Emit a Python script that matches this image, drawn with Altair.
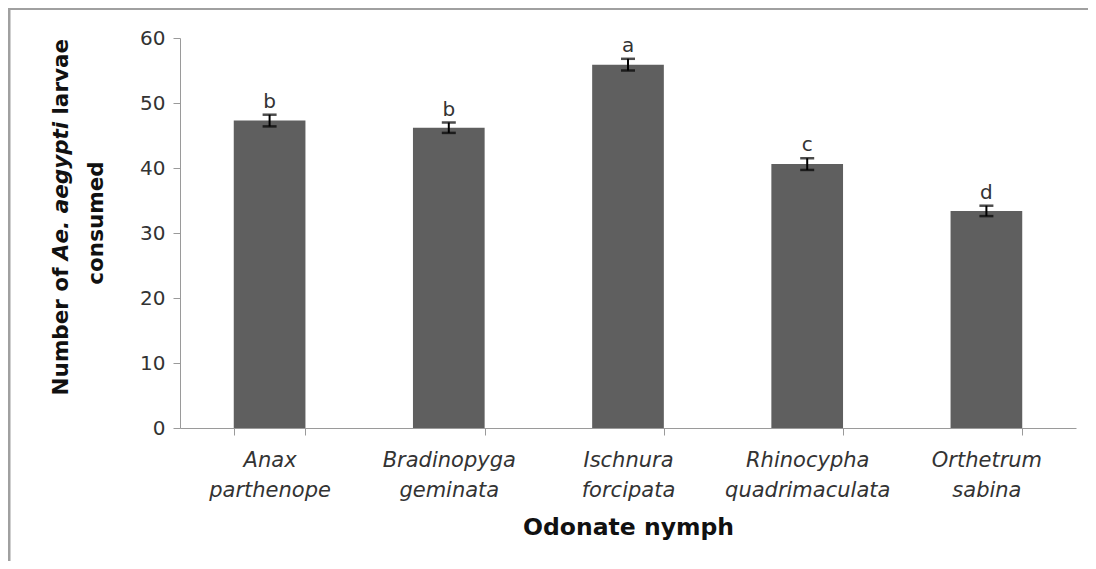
import altair as alt
import pandas as pd

species = ["Anax parthenope", "Bradinopyga geminata", "Ischnura forcipata",
           "Rhinocypha quadrimaculata", "Orthetrum sabina"]
means = [47.3, 46.2, 55.9, 40.6, 33.4]
errs = [0.9, 0.8, 0.9, 0.9, 0.8]
letters = ["b", "b", "a", "c", "d"]
y_ticks = [0, 10, 20, 30, 40, 50, 60]

df = pd.DataFrame({"species": species, "mean": means, "err": errs, "letter": letters})
df["lo"] = df["mean"] - df["err"]
df["hi"] = df["mean"] + df["err"]

FONT = "DejaVu Sans"
W, H = 896, 390
PL, PT, PR, PB = 172, 30, 12, 133
GREY = "#9a9a9a"

x = alt.X("species:N", sort=species,
          scale=alt.Scale(paddingInner=0.6, paddingOuter=0.3),
          axis=alt.Axis(title="Odonate nymph", labelExpr="split(datum.label, ' ')",
                        labelAngle=0, labelFont=FONT, labelFontStyle="italic",
                        labelFontSize=21, labelColor="#333333", labelLineHeight=30,
                        labelPadding=14, tickBand="extent", tickSize=7, tickColor=GREY,
                        domainColor=GREY, titleFont=FONT, titleFontSize=23.5,
                        titleFontWeight="bold", titleColor="#111111", titlePadding=15))
yax = alt.Axis(values=y_ticks, title=None, grid=False, labelFont=FONT, labelFontSize=20,
               labelColor="#333333", tickSize=7, labelPadding=8, tickColor=GREY,
               domainColor=GREY)
yscale = alt.Scale(domain=[0, 60], nice=False)

base = alt.Chart(df)
bars = base.mark_bar(color="#5f5f5f").encode(
    x=x, y=alt.Y("mean:Q", scale=yscale, axis=yax))
rule = base.mark_rule(color="black", strokeWidth=2).encode(
    x=x, y=alt.Y("lo:Q", scale=yscale, axis=yax), y2="hi:Q")
cap_lo = base.mark_tick(color="black", thickness=2.5, size=14).encode(
    x=x, y=alt.Y("lo:Q", scale=yscale, axis=yax))
cap_hi = base.mark_tick(color="black", thickness=2.5, size=14).encode(
    x=x, y=alt.Y("hi:Q", scale=yscale, axis=yax))
labels = base.mark_text(font=FONT, fontSize=20, color="#333333", baseline="alphabetic",
                        dy=-7).encode(
    x=x, y=alt.Y("hi:Q", scale=yscale, axis=yax), text="letter:N")

one = pd.DataFrame({"k": [0]})
TS = 21.5
seg_center = 153
aeg_half = 69
gap = 7.5
x1, x2 = -118, -83
t_kw = dict(font=FONT, fontSize=TS, fontWeight="bold", angle=270, baseline="middle",
            color="#111111")
t_num = alt.Chart(one).mark_text(text="Number of", align="right", **t_kw).encode(
    x=alt.value(x1), y=alt.value(seg_center + aeg_half + gap))
t_aeg = alt.Chart(one).mark_text(text="Ae. aegypti", align="center", fontStyle="italic",
                                 **t_kw).encode(x=alt.value(x1), y=alt.value(seg_center))
t_lar = alt.Chart(one).mark_text(text="larvae", align="left", **t_kw).encode(
    x=alt.value(x1), y=alt.value(seg_center - aeg_half - gap))
t_con = alt.Chart(one).mark_text(text="consumed", align="center", **t_kw).encode(
    x=alt.value(x2), y=alt.value(185))

frame_l = alt.Chart(one).mark_rule(color="#a0a0a0", strokeWidth=3).encode(
    x=alt.value(-171), y=alt.value(-PT), y2=alt.value(H + PB))
frame_t = alt.Chart(one).mark_rule(color="#a0a0a0", strokeWidth=2).encode(
    x=alt.value(-PL), x2=alt.value(W + PR), y=alt.value(-PT + 1))

chart = alt.layer(bars, rule, cap_lo, cap_hi, labels, t_num, t_aeg, t_lar, t_con,
                  frame_l, frame_t).properties(
    width=W, height=H,
    autosize=alt.AutoSizeParams(type="none"),
    padding={"left": PL, "top": PT, "right": PR, "bottom": PB},
    background="white",
).configure_view(stroke=None)

chart.save("out.html", embed_options={"renderer": "svg", "actions": False})
